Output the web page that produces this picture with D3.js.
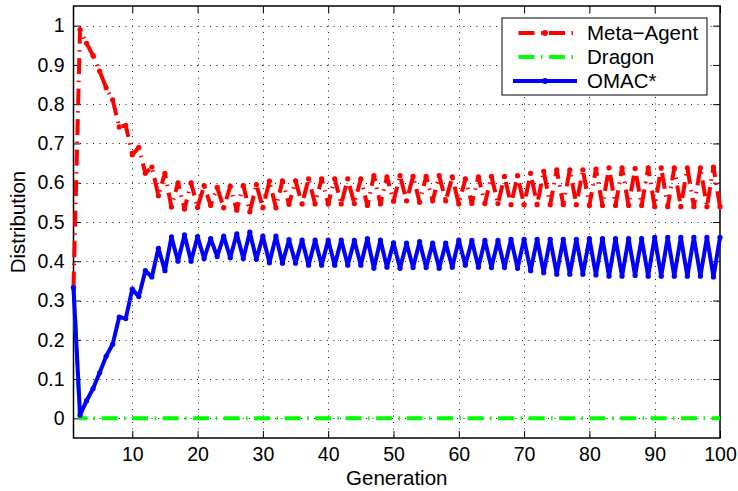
<!DOCTYPE html>
<html><head><meta charset="utf-8">
<script src="https://cdn.jsdelivr.net/npm/d3@7"></script>
<style>
html,body{margin:0;padding:0;background:#fff;}
svg{display:block;}
text{font-family:"Liberation Sans",Arial,Helvetica,sans-serif;}
</style>
</head><body>
<svg id="c" width="738" height="491"></svg>
<script>
// ---------------- data ----------------
const generations = d3.range(1, 101);
const metaAgent = [
0.333,0.990,0.955,0.924,0.884,0.842,0.811,0.742,0.746,0.671,
0.690,0.624,0.640,0.567,0.624,0.538,0.600,0.533,0.600,0.537,
0.593,0.542,0.588,0.536,0.591,0.530,0.593,0.526,0.595,0.536,
0.604,0.536,0.605,0.545,0.605,0.546,0.610,0.546,0.610,0.546,
0.610,0.546,0.610,0.547,0.610,0.542,0.618,0.546,0.615,0.553,
0.618,0.554,0.616,0.550,0.616,0.554,0.618,0.554,0.615,0.546,
0.610,0.547,0.615,0.547,0.616,0.547,0.616,0.544,0.618,0.544,
0.624,0.544,0.629,0.544,0.633,0.544,0.633,0.544,0.633,0.542,
0.635,0.542,0.638,0.542,0.638,0.542,0.636,0.542,0.638,0.539,
0.638,0.539,0.638,0.539,0.638,0.539,0.638,0.539,0.640,0.539
];
const dragon = [
0.333,0,0,0,0,0,0,0,0,0,
0,0,0,0,0,0,0,0,0,0,
0,0,0,0,0,0,0,0,0,0,
0,0,0,0,0,0,0,0,0,0,
0,0,0,0,0,0,0,0,0,0,
0,0,0,0,0,0,0,0,0,0,
0,0,0,0,0,0,0,0,0,0,
0,0,0,0,0,0,0,0,0,0,
0,0,0,0,0,0,0,0,0,0,
0,0,0,0,0,0,0,0,0,0
];
const omac = [
0.333,0.008,0.045,0.076,0.116,0.158,0.189,0.258,0.254,0.329,
0.310,0.376,0.360,0.433,0.376,0.462,0.400,0.467,0.400,0.463,
0.407,0.458,0.412,0.464,0.409,0.470,0.407,0.474,0.405,0.464,
0.396,0.464,0.395,0.455,0.395,0.454,0.390,0.454,0.390,0.454,
0.390,0.454,0.390,0.453,0.390,0.458,0.382,0.454,0.385,0.447,
0.382,0.446,0.384,0.450,0.384,0.446,0.382,0.446,0.385,0.454,
0.390,0.453,0.385,0.453,0.384,0.453,0.384,0.456,0.382,0.456,
0.376,0.456,0.371,0.456,0.367,0.456,0.367,0.456,0.367,0.458,
0.365,0.458,0.362,0.458,0.362,0.458,0.364,0.458,0.362,0.461,
0.362,0.461,0.362,0.461,0.362,0.461,0.362,0.461,0.360,0.461
];
const seriesNames = ["Meta\u2212Agent", "Dragon", "OMAC*"];
const xTicks = [10,20,30,40,50,60,70,80,90,100];
const yTicks = [0,0.1,0.2,0.3,0.4,0.5,0.6,0.7,0.8,0.9,1];
const yTickLabels = ["0","0.1","0.2","0.3","0.4","0.5","0.6","0.7","0.8","0.9","1"];
const xLabel = "Generation";
const yLabel = "Distribution";

// ---------------- layout ----------------
const L = 73.5, R = 720, T = 6, B = 438;
const FS = 19.5, LFS = 20.5;
const svg = d3.select("#c");
const x = d3.scaleLinear().domain([1, 100]).range([L, R]);
const y = d3.scaleLinear().domain([-0.05, 1.05]).range([B, T]);

// grid
const grid = svg.append("g").attr("stroke", "#222").attr("stroke-width", 1).attr("stroke-dasharray", "1,5.5");
xTicks.filter(d => d < 100).forEach(d => {
  grid.append("line").attr("x1", Math.round(x(d)) + 0.5).attr("x2", Math.round(x(d)) + 0.5).attr("y1", T).attr("y2", B);
});
yTicks.forEach(d => {
  grid.append("line").attr("y1", Math.round(y(d)) + 0.5).attr("y2", Math.round(y(d)) + 0.5).attr("x1", L).attr("x2", R);
});

function styleAxis(g, labels) {
  g.select(".domain").remove();
  g.attr("font-family", "Liberation Sans, Arial, Helvetica, sans-serif").attr("font-size", FS);
  g.selectAll(".tick line").attr("stroke", "#000").attr("stroke-width", 1);
  g.selectAll(".tick text").attr("fill", "#000");
  if (!labels) g.selectAll(".tick text").remove();
}
svg.append("g").attr("transform", `translate(0,${B})`)
  .call(d3.axisBottom(x).tickValues(xTicks).tickSize(-7).tickPadding(9))
  .call(g => styleAxis(g, true));
svg.append("g").attr("transform", `translate(0,${T})`)
  .call(d3.axisTop(x).tickValues(xTicks).tickSize(-7))
  .call(g => styleAxis(g, false));
svg.append("g").attr("transform", `translate(${L},0)`)
  .call(d3.axisLeft(y).tickValues(yTicks).tickFormat((d, i) => yTickLabels[i]).tickSize(-7).tickPadding(9))
  .call(g => styleAxis(g, true));
svg.append("g").attr("transform", `translate(${R},0)`)
  .call(d3.axisRight(y).tickValues(yTicks).tickSize(-7))
  .call(g => styleAxis(g, false));

// box
svg.append("rect").attr("x", L).attr("y", T).attr("width", R - L).attr("height", B - T)
  .attr("fill", "none").attr("stroke", "#000").attr("stroke-width", 1.5);

// axis labels
svg.append("text").attr("x", (L + R) / 2).attr("y", 485).attr("text-anchor", "middle")
  .attr("font-size", LFS).text(xLabel);
svg.append("text").attr("transform", `translate(25,${(T + B) / 2}) rotate(-90)`).attr("text-anchor", "middle")
  .attr("font-size", LFS).text(yLabel);

// series
const line = d3.line().x((d, i) => x(generations[i])).y(d => y(d));
const dashDot = "16,6.5,1.5,6.5";
const series = [
  {name: seriesNames[0], data: metaAgent, color: "#ff0000", dash: dashDot, marker: 2.6},
  {name: seriesNames[1], data: dragon, color: "#00ff00", dash: dashDot, marker: 0},
  {name: seriesNames[2], data: omac, color: "#0000ff", dash: null, marker: 2.6}
];
series.forEach(s => {
  svg.append("path").datum(s.data).attr("d", line)
    .attr("fill", "none").attr("stroke", s.color).attr("stroke-width", 4)
    .attr("stroke-linejoin", "round").attr("stroke-linecap", "butt")
    .attr("stroke-dasharray", s.dash);
  if (s.marker) {
    svg.append("g").selectAll("circle").data(s.data).join("circle")
      .attr("cx", (d, i) => x(generations[i])).attr("cy", d => y(d)).attr("r", s.marker)
      .attr("fill", s.color);
  }
});

// legend
const lg = svg.append("g");
lg.append("rect").attr("x", 502).attr("y", 18).attr("width", 205).attr("height", 77)
  .attr("fill", "#fff").attr("stroke", "#000").attr("stroke-width", 1);
series.forEach((s, i) => {
  const yy = 33 + i * 24;
  lg.append("line").attr("x1", 513).attr("x2", 577).attr("y1", yy).attr("y2", yy)
    .attr("stroke", s.color).attr("stroke-width", 4).attr("stroke-dasharray", s.dash)
    .attr("stroke-dashoffset", s.dash ? 25 : null);
  if (s.marker) lg.append("circle").attr("cx", 545).attr("cy", yy).attr("r", 3).attr("fill", s.color);
  lg.append("text").attr("x", 587).attr("y", yy).attr("dy", "0.35em").attr("font-size", LFS).text(s.name);
});
</script>
</body></html>
